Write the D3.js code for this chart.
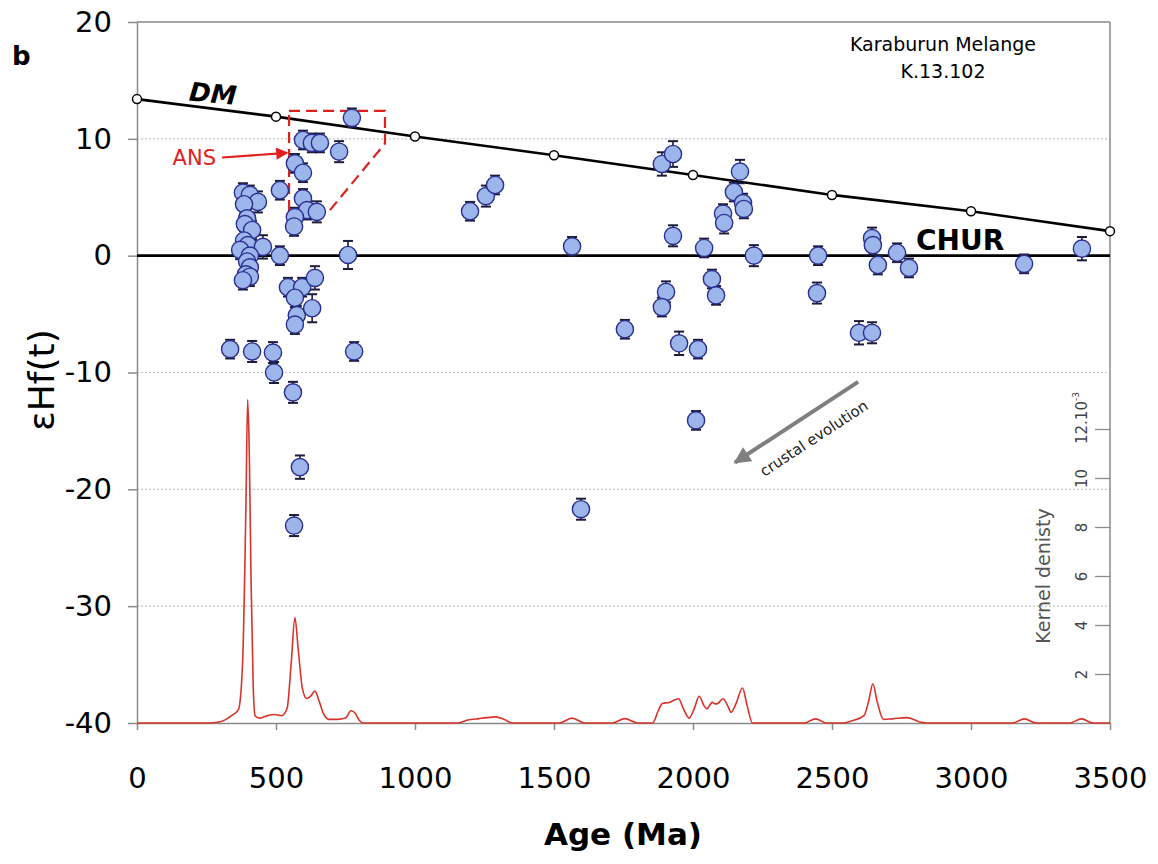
<!DOCTYPE html>
<html><head><meta charset="utf-8">
<script src="https://cdn.jsdelivr.net/npm/d3@7/dist/d3.min.js"></script>
<style>body{margin:0;background:#fff}</style>
</head><body>
<svg id="chart" width="1158" height="864"></svg>
<script>
// ---- data ----
const ages = [335,414,489,493,561,586,565,781,
  381,406,435,385,514,396,388,414,385,399,453,371,406,514,396,406,392,406,381,
  597,629,658,727,773,568,597,597,612,647,568,565,
  543,594,640,568,575,630,568,759,
  1198,1255,1288,1565,1597,1755,1888,1928,2169,2147,2180,2183,2108,2112,1928,2040,2219,2450,
  2068,2083,1903,1888,2446,1950,2018,2011,2597,2644,2644,2647,2665,2734,2777,3191,3399];
const ehf = [-8.0,-8.2,-8.3,-10.0,-11.7,-18.1,-23.1,-8.2,
  5.4,5.2,4.6,4.4,5.6,3.2,2.7,2.2,1.3,0.9,0.75,0.5,0.0,0.0,-0.5,-1.0,-1.6,-1.8,-2.1,
  9.9,9.65,9.65,8.9,11.8,7.9,7.1,4.9,3.9,3.75,3.3,2.5,
  -2.7,-2.7,-1.9,-3.6,-5.1,-4.5,-5.9,0.06,
  3.8,5.1,6.05,0.8,-21.7,-6.3,7.85,8.7,7.2,5.45,4.5,4.0,3.6,2.8,1.7,0.66,0.0,0.0,
  -2.0,-3.4,-3.1,-4.4,-3.2,-7.5,-8.0,-14.1,-6.6,-6.6,1.5,0.9,-0.8,0.25,-1.05,-0.7,0.6];
const errs = [0.8,0.9,0.9,0.9,0.9,1.0,0.9,0.8,
  0.8,0.8,0.9,0.8,0.8,0.8,0.8,0.8,0.8,0.8,1.0,0.8,0.8,0.8,0.8,0.8,0.8,0.8,0.8,
  0.8,0.8,0.8,0.9,0.8,0.8,0.8,0.8,0.8,0.9,0.8,0.8,
  0.8,0.8,1.0,0.8,0.8,1.2,0.8,1.2,
  0.8,0.9,0.8,0.8,0.9,0.8,1.0,1.1,1.0,0.8,0.8,0.8,0.8,0.9,0.9,0.8,0.9,0.8,
  0.8,0.8,0.9,0.8,0.9,1.0,0.8,0.8,1.0,0.9,0.9,0.8,0.8,0.8,0.8,0.8,1.0];

const dmAges = [0,500,1000,1500,2000,2500,3000,3500];
const dmValues = [13.4,11.9,10.2,8.6,6.9,5.2,3.8,2.1];
const churAges = [0,3500];
const churValues = [0,0];

const kdeAges = [0,250,300,340,365,380,392,398,404,410,418,425,440,470,495,520,540,555,568,580,595,610,625,640,655,670,690,720,750,770,785,800,815,
  1150,1190,1230,1260,1290,1320,1350,1520,1565,1610,1710,1755,1800,
  1855,1875,1890,1915,1935,1948,1965,1986,2005,2022,2040,2050,2069,2080,2089,2108,2125,2137,2155,2178,2195,2214,
  2400,2441,2480,2540,2575,2615,2632,2647,2662,2685,2717,2769,2820,2840,3150,3192,3235,3355,3397,3440,3500];
const kdeValues = [0,0,0.05,0.3,0.55,2.5,9,13.2,11,6,1.5,0.3,0.2,0.3,0.35,0.3,0.6,2.5,4.3,3.0,1.4,1.0,1.1,1.3,0.9,0.4,0.15,0.15,0.2,0.5,0.4,0.1,0,
  0,0.12,0.18,0.22,0.25,0.15,0,0,0.2,0,0,0.18,0,
  0,0.5,0.8,0.84,0.95,0.99,0.6,0.2,0.6,1.09,0.7,0.58,0.84,0.78,0.8,0.99,0.7,0.44,0.8,1.43,0.7,0,
  0,0.17,0,0,0.1,0.3,0.9,1.6,0.9,0.15,0.17,0.22,0.03,0,0,0.17,0,0,0.17,0,0];

const ansBoxAges = [547,892,892,694,547,547];
const ansBoxValues = [12.4,12.4,9.6,3.9,3.9,12.4];

const xTicks = [0,500,1000,1500,2000,2500,3000,3500];
const yTicks = [-40,-30,-20,-10,0,10,20];
const kTicks = [2,4,6,8,10,12];
const gridValues = [10,-10,-20,-30];

// annotation anchors (data coords)
const ansArrow = [[306,8.4],[540,8.8]];
const ansLabel = [128,7.8];
const crustArrow = [[2594,-10.8],[2151,-17.7]];
const crustLabel = [2445,-16.0];
const dmLabel = [270,13.1];
const churLabel = [2802,0.45];

// ---- chart ----
const svg = d3.select("#chart");
const x = d3.scaleLinear().domain([0,3500]).range([137,1110]);
const y = d3.scaleLinear().domain([-40,20]).range([723,22]);
const yk = d3.scaleLinear().domain([0,12]).range([723,429]);
const FONT = "DejaVu Sans, Liberation Sans, Arial, sans-serif";

// grid
svg.append("g").selectAll("line").data(gridValues).join("line")
  .attr("x1",x(0)).attr("x2",x(3500)).attr("y1",d=>y(d)).attr("y2",d=>y(d))
  .attr("stroke","#c4c4c4").attr("stroke-width",1.2).attr("stroke-dasharray","2,2");

// frame top/right
svg.append("line").attr("x1",x(0)).attr("x2",x(3500)).attr("y1",y(20)).attr("y2",y(20))
  .attr("stroke","#8a8a8a").attr("stroke-width",1.5);
svg.append("line").attr("x1",x(3500)).attr("x2",x(3500)).attr("y1",y(20)).attr("y2",y(-40))
  .attr("stroke","#8a8a8a").attr("stroke-width",1.5);

// axes
const gx = svg.append("g").attr("transform",`translate(0,${y(-40)})`)
  .call(d3.axisBottom(x).tickValues(xTicks).tickSize(7).tickSizeOuter(0).tickPadding(37).tickFormat(d=>String(d)));
const gy = svg.append("g").attr("transform",`translate(${x(0)},0)`)
  .call(d3.axisLeft(y).tickValues(yTicks).tickSize(9).tickSizeOuter(0).tickPadding(16).tickFormat(d=>String(d)));
[gx,gy].forEach(g=>{
  g.select(".domain").attr("stroke","#8a8a8a").attr("stroke-width",1.5);
  g.selectAll(".tick line").attr("stroke","#8a8a8a").attr("stroke-width",1.5);
  g.selectAll(".tick text").attr("font-family",FONT).attr("font-size",29).attr("fill","#000");
});

// kernel axis (right, inside)
const gk = svg.append("g").attr("transform",`translate(${x(3500)},0)`)
  .call(d3.axisLeft(yk).tickValues(kTicks).tickSize(15).tickSizeOuter(0).tickFormat(d=>d===12?"":d));
gk.select(".domain").remove();
gk.selectAll(".tick line").attr("stroke","#8a8a8a").attr("stroke-width",1.3);
gk.selectAll(".tick text").attr("font-family",FONT).attr("font-size",15).attr("fill","#444")
  .attr("x",-28).attr("dy",null).attr("text-anchor","middle").attr("dominant-baseline","central")
  .attr("transform","rotate(-90,-28,0)");
const k12 = svg.append("text").attr("font-family",FONT).attr("font-size",15).attr("fill","#444")
  .attr("dominant-baseline","central")
  .attr("transform",`translate(${x(3500)-28},${yk(12)+15}) rotate(-90)`);
k12.append("tspan").text("12.10");
k12.append("tspan").attr("font-size",9).attr("dy",-6).text("-3");
svg.append("text").attr("font-family",FONT).attr("font-size",19).attr("fill","#555")
  .attr("text-anchor","middle").attr("dominant-baseline","central")
  .attr("transform",`translate(${x(3500)-67},${yk(6.0)}) rotate(-90)`).text("Kernel denisty");

// kde curve
const kde = kdeAges.map((a,i)=>[a,kdeValues[i]]);
svg.append("path").datum(kde)
  .attr("d",d3.line().x(d=>x(d[0])).y(d=>yk(d[1])).curve(d3.curveMonotoneX))
  .attr("fill","none").attr("stroke","#d8332b").attr("stroke-width",1.6);

// CHUR
svg.append("path").datum(churAges.map((a,i)=>[a,churValues[i]]))
  .attr("d",d3.line().x(d=>x(d[0])).y(d=>y(d[1])))
  .attr("stroke","#000").attr("stroke-width",2.6).attr("fill","none");
// DM
const dm = dmAges.map((a,i)=>[a,dmValues[i]]);
svg.append("path").datum(dm).attr("d",d3.line().x(d=>x(d[0])).y(d=>y(d[1])))
  .attr("stroke","#000").attr("stroke-width",2.6).attr("fill","none");
svg.append("g").selectAll("circle").data(dm).join("circle")
  .attr("cx",d=>x(d[0])).attr("cy",d=>y(d[1])).attr("r",4.5)
  .attr("fill","#fff").attr("stroke","#000").attr("stroke-width",1.5);

// ANS box
svg.append("path").datum(ansBoxAges.map((a,i)=>[a,ansBoxValues[i]]))
  .attr("d",d3.line().x(d=>x(d[0])).y(d=>y(d[1])))
  .attr("fill","none").attr("stroke","#e0201c").attr("stroke-width",2.2).attr("stroke-dasharray","11,6");

// data points
const pts = ages.map((a,i)=>({a, v:ehf[i], e:errs[i]}));
const gEb = svg.append("g").attr("stroke","#1c1c3a").attr("stroke-width",1.6);
pts.forEach(p=>{
  gEb.append("line").attr("x1",x(p.a)).attr("x2",x(p.a)).attr("y1",y(p.v-p.e)).attr("y2",y(p.v+p.e));
  [p.v-p.e,p.v+p.e].forEach(v=>gEb.append("line").attr("x1",x(p.a)-5).attr("x2",x(p.a)+5).attr("y1",y(v)).attr("y2",y(v)).attr("stroke-width",2));
});
svg.append("g").selectAll("circle").data(pts).join("circle")
  .attr("cx",d=>x(d.a)).attr("cy",d=>y(d.v)).attr("r",8.6)
  .attr("fill","#9cb6ec").attr("stroke","#2a2f8f").attr("stroke-width",1.4);

// arrowheads
const defs = svg.append("defs");
defs.append("marker").attr("id","redHead").attr("viewBox","0 0 10 10").attr("refX",9).attr("refY",5)
  .attr("markerWidth",6).attr("markerHeight",5.5).attr("markerUnits","strokeWidth").attr("orient","auto")
  .append("path").attr("d","M0,0 L10,5 L0,10 Z").attr("fill","#e0201c");
defs.append("marker").attr("id","greyHead").attr("viewBox","0 0 10 10").attr("refX",9).attr("refY",5)
  .attr("markerWidth",4.5).attr("markerHeight",4.2).attr("markerUnits","strokeWidth").attr("orient","auto")
  .append("path").attr("d","M0,0 L10,5 L0,10 Z").attr("fill","#7f7f7f");

svg.append("line").attr("x1",x(ansArrow[0][0])).attr("y1",y(ansArrow[0][1]))
  .attr("x2",x(ansArrow[1][0])).attr("y2",y(ansArrow[1][1]))
  .attr("stroke","#e0201c").attr("stroke-width",2.2).attr("marker-end","url(#redHead)");
svg.append("text").attr("x",x(ansLabel[0])).attr("y",y(ansLabel[1]))
  .attr("font-family",FONT).attr("font-size",21).attr("fill","#e0201c").text("ANS");

svg.append("line").attr("x1",x(crustArrow[0][0])).attr("y1",y(crustArrow[0][1]))
  .attr("x2",x(crustArrow[1][0])).attr("y2",y(crustArrow[1][1]))
  .attr("stroke","#7f7f7f").attr("stroke-width",4).attr("marker-end","url(#greyHead)");
const ang = Math.atan2(y(crustArrow[0][1])-y(crustArrow[1][1]), x(crustArrow[0][0])-x(crustArrow[1][0]))*180/Math.PI;
svg.append("text").attr("font-family",FONT).attr("font-size",15).attr("fill","#222")
  .attr("text-anchor","middle")
  .attr("transform",`translate(${x(crustLabel[0])},${y(crustLabel[1])}) rotate(${ang})`).text("crustal evolution");

// labels
svg.append("text").attr("font-family",FONT).attr("font-size",26).attr("font-weight","bold").attr("font-style","italic")
  .attr("text-anchor","middle").attr("transform",`translate(${x(dmLabel[0])},${y(dmLabel[1])}) rotate(5)`).text("DM");
svg.append("text").attr("font-family",FONT).attr("font-size",28).attr("font-weight","bold")
  .attr("x",x(churLabel[0])).attr("y",y(churLabel[1])).text("CHUR");

svg.append("text").attr("x",943).attr("y",51).attr("text-anchor","middle")
  .attr("font-family",FONT).attr("font-size",19).text("Karaburun Melange");
svg.append("text").attr("x",943).attr("y",78).attr("text-anchor","middle")
  .attr("font-family",FONT).attr("font-size",19).text("K.13.102");
svg.append("text").attr("x",12).attr("y",65).attr("font-family",FONT).attr("font-size",26).attr("font-weight","bold").text("b");

svg.append("text").attr("text-anchor","middle").attr("font-family",FONT).attr("font-size",36)
  .attr("transform","translate(54,380) rotate(-90)").text("εHf(t)");
svg.append("text").attr("x",623).attr("y",845).attr("text-anchor","middle")
  .attr("font-family",FONT).attr("font-size",31).attr("font-weight","bold").text("Age (Ma)");
</script>
</body></html>
